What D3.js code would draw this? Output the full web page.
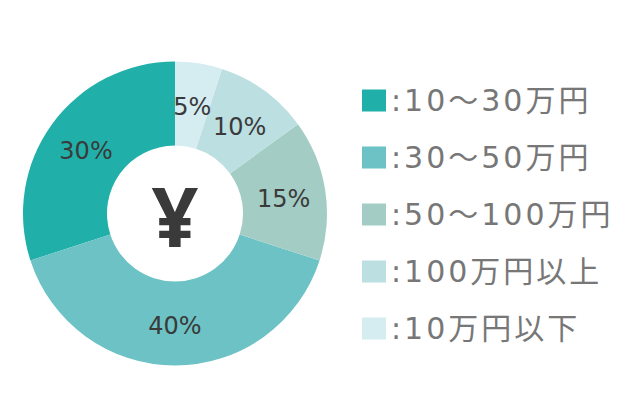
<!DOCTYPE html>
<html>
<head>
<meta charset="utf-8">
<script src="https://d3js.org/d3.v7.min.js"></script>
<style>
body { margin: 0; background: #fff; }
svg { display: block; }
</style>
</head>
<body>
<div id="chart"></div>
<script>
var width = 640, height = 420;

// legend order (top to bottom)
var categories = ["10〜30万円", "30〜50万円", "50〜100万円", "100万円以上", "10万円以下"];
var shares = [30, 40, 15, 10, 5];
var colors = ["#20b0a9", "#6cc2c4", "#a3cdc4", "#bcdfe2", "#d5ecf0"];

var data = categories.map(function(c, i) {
  return { name: c, value: shares[i], color: colors[i] };
});

var cx = 175, cy = 213.5;
var outerR = 152, innerR = 68;

var svg = d3.select("#chart").append("svg")
  .attr("width", width).attr("height", height);

// slices go clockwise from 12 o'clock, starting with the last category
var pie = d3.pie()
  .value(function(d) { return d.value; })
  .sort(null)
  .startAngle(0).endAngle(-2 * Math.PI);

var arc = d3.arc().innerRadius(innerR).outerRadius(outerR);
var labelArc = d3.arc().innerRadius(110).outerRadius(110);

var g = svg.append("g").attr("transform", "translate(" + cx + "," + cy + ")");

var slices = pie(data);

g.selectAll("path").data(slices)
  .enter().append("path")
  .attr("d", arc)
  .style("fill", function(d) { return d.data.color; });

g.selectAll(".pct").data(slices)
  .enter().append("text")
  .attr("class", "pct")
  .attr("transform", function(d) {
    var p = labelArc.centroid(d);
    return "translate(" + p[0] + "," + (p[1] + 2) + ")";
  })
  .attr("text-anchor", "middle")
  .attr("dy", "0.36em")
  .style("font-family", "'DejaVu Sans', sans-serif")
  .style("font-size", "24px")
  .style("fill", "#3a3a3a")
  .text(function(d) { return d.data.value + "%"; });

g.append("text")
  .attr("text-anchor", "middle")
  .attr("y", 4)
  .attr("dy", "0.36em")
  .style("font-family", "'Noto Sans', sans-serif")
  .style("font-weight", "bold")
  .style("font-size", "82px")
  .style("fill", "#3a3a3a")
  .text("¥");

// legend
var rowY = d3.scaleBand().domain(categories).range([72, 357]);

var legend = svg.selectAll(".legend").data(data)
  .enter().append("g")
  .attr("class", "legend")
  .attr("transform", function(d) {
    return "translate(362," + (rowY(d.name) + rowY.bandwidth() / 2) + ")";
  });

legend.append("rect")
  .attr("x", 0).attr("y", -11)
  .attr("width", 24).attr("height", 22)
  .style("fill", function(d) { return d.color; });

legend.append("text")
  .attr("x", 29)
  .attr("dy", "0.36em")
  .style("font-family", "'DejaVu Sans', 'Noto Sans CJK JP', sans-serif")
  .style("font-size", "30px")
  .style("letter-spacing", "3px")
  .style("fill", "#777")
  .text(function(d) { return ":" + d.name; });
</script>
</body>
</html>
